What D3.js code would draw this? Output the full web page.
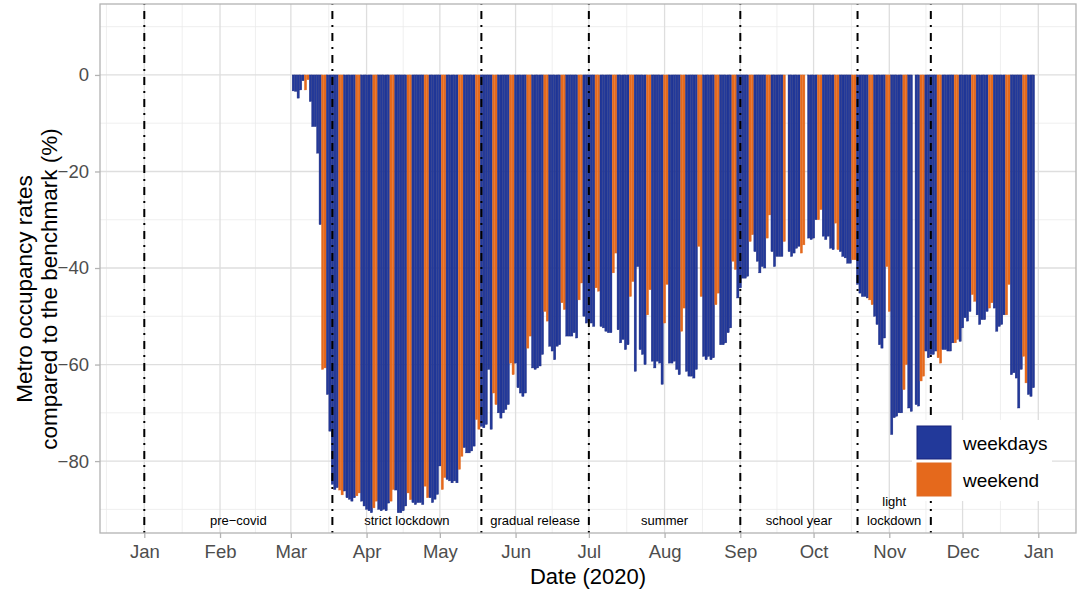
<!DOCTYPE html>
<html>
<head>
<meta charset="utf-8">
<script src="https://cdn.jsdelivr.net/npm/d3@7"></script>
<style>
  body { margin: 0; background: #fff; }
  svg { font-family: "Liberation Sans", Arial, Helvetica, sans-serif; }
</style>
</head>
<body>
<script>
// daily metro occupancy vs benchmark (%), one array per month, index 0 = 1st day (null = no data)
var march = [null, -3.3, -3.4, -4.8, -3.1, -1.2, -3.1, -1.0, -5.5, -10.7, -10.7, -16.2, -31, -61, -60.7, -66.2,
  -73.8, -84.8, -85.9, -85.5, -86, -87, -86.2, -87.6, -87.9, -88.3, -87.6, -87.2, -86.6, -88.3, -89.3];
var april = [-90, -90.3, -90.7, -89.7, -88.3, -90, -90.3, -90, -90.3, -88.7, -88.3, -85.9, -86, -90.7, -90.7,
  -90.3, -89.3, -86.6, -88, -88.6, -89, -88.6, -88.6, -89, -85.2, -87.6, -87.6, -88.6, -87.9, -86.9];
var may = [-81, -85.9, -83.4, -83.8, -84.1, -84.5, -84.1, -84.5, -81.7, -79, -77.2, -78.3, -78.3, -77.9, -76.9,
  -71.4, -73.4, -72.8, -73.1, -72.4, -61, -73.4, -65.9, -68.3, -70, -71.1, -70, -69.3, -68.3, -59.7, -62.1];
var june = [-59.7, -64.8, -65.9, -66.6, -65.9, -56.6, -54.1, -60.7, -61, -60.7, -60.3, -57.9, -49, -51, -56.2,
  -57.2, -59, -56.2, -55.9, -47.2, -48.6, -54.1, -54.1, -54.1, -53.4, -54.5, -46.6, -43.1, -50, -51.4];
var july = [-51, -51.4, -52.1, -44.1, -44.8, -52.1, -52.4, -53.1, -53.4, -53.4, -41, -36.9, -52.8, -55.5, -54.8,
  -56.9, -55.9, -45.9, -42.8, -61.4, -39.7, -56.9, -57.9, -60, -49.7, -44.5, -59.3, -60.7, -59.3, -59.7, -64.1];
var august = [-51.4, -43.4, -59.7, -59.7, -59.3, -61, -62.1, -53.1, -48.3, -61.4, -62.4, -62.4, -62.8, -61, -35.5,
  -45.9, -58.3, -59, -58.3, -59, -58.6, -47.6, -45.2, -55.9, -55.9, -55.5, -53.4, -52.4, -38.6, -40.3, -46.2];
var september = [-44.1, -42.1, -42.1, -41.7, -34.5, -33.1, -36.6, -38.6, -41, -39.7, -40, -33.8, -29, -36.6, -39.7,
  -37.6, -37.6, -37.6, -34.5, null, -36.6, -37.6, -36.9, -35.9, -35.5, -36.9, -35.2, null, -33.8, -34.1];
var october = [-33.8, -30, -30, -27.9, -33.4, -34.1, -33.4, -35.9, -36.2, -30.7, -36.2, -36.6, -37.6, -37.9, -39,
  -39, -38.3, -38.3, -43.4, -45.2, -45.9, -45.9, -46.2, -46.6, -47.6, -50, -51.7, -55.9, -56.6, -54.5, -39.7];
var november = [-49, -74.5, -71, -70.7, -70, -70, -65.2, -60, -69, -69.7, null, -68.3, -68.6, -63.4, -62.4,
  -57.2, -58.6, -57.9, -57.9, -57.2, -58.6, -59.7, -56.9, -56.9, -57.2, -57.2, -55.5, -55.5, -54.8, -55.2];
var december = [-52.4, -50.3, -51, -49, -45.5, -46.9, -49.7, -51.7, -50.7, -50.7, -49, -48.3, -47.2, -48.3, -53.1,
  -52.1, -51.7, -49.7, -49.7, -43.4, -62.1, -61.7, -62.8, -69, -61, -58.3, -63.8, -66.2, -66.6, -64.8];

var monthlyValues = [march, april, may, june, july, august, september, october, november, december];
var firstMonth = 2; // march

var monthLabels = ["Jan", "Feb", "Mar", "Apr", "May", "Jun", "Jul", "Aug", "Sep", "Oct", "Nov", "Dec", "Jan"];
var yTicks = [0, -20, -40, -60, -80];
var yMinor = [10, -10, -30, -50, -70, -90];

var phaseStarts = ["2020-01-01", "2020-03-18", "2020-05-18", "2020-07-01", "2020-09-01", "2020-10-19", "2020-11-18"];
var phaseLabels = [["pre\u2212covid"], ["strict lockdown"], ["gradual release"], ["summer"], ["school year"], ["light", "lockdown"]];

var legendLabels = ["weekdays", "weekend"];
var colors = { weekdays: "#22399a", weekend: "#e5691c" };
var strokes = { weekdays: "#16237c", weekend: "#e06a22" };

// build daily rows
var DAY = 864e5;
var rows = [];
monthlyValues.forEach(function(arr, m) {
  arr.forEach(function(v, i) {
    if (v === null) return;
    var date = new Date(Date.UTC(2020, firstMonth + m, i + 1));
    var dow = date.getUTCDay();
    rows.push({ date: date, value: v, type: (dow === 0 || dow === 6) ? "weekend" : "weekdays" });
  });
});

var w = 1084, h = 595;
var pl = 100, pr = 1076, pt = 4, pb = 533;

var t0 = Date.UTC(2020, 0, 1);
var pxPerDay = 894 / 366;
var xScale = d3.scaleUtc()
  .domain([new Date(t0 - (144.3 - pl) / pxPerDay * DAY), new Date(t0 + (pr - 144.3) / pxPerDay * DAY)])
  .range([pl, pr]);

var yScale = d3.scaleLinear()
  .domain([14.7, -94.9])
  .range([pt, pb]);

var svg = d3.select("body").append("svg")
  .attr("width", w)
  .attr("height", h);

svg.append("defs").append("clipPath").attr("id", "panel")
  .append("rect").attr("x", pl).attr("y", pt).attr("width", pr - pl).attr("height", pb - pt);

var grid = svg.append("g").attr("clip-path", "url(#panel)");

// x gridlines: months major, mid-months minor
var majorDates = d3.utcMonth.range(new Date(Date.UTC(2020, 0, 1)), new Date(Date.UTC(2021, 0, 2)));
var allMonths = d3.utcMonth.range(new Date(Date.UTC(2019, 11, 1)), new Date(Date.UTC(2021, 1, 2)));
var minorDates = [];
for (var k = 0; k < allMonths.length - 1; k++) {
  minorDates.push(new Date((+allMonths[k] + +allMonths[k + 1]) / 2));
}

grid.selectAll(".xminor").data(minorDates).enter().append("line")
  .attr("x1", function(d) { return xScale(d); }).attr("x2", function(d) { return xScale(d); })
  .attr("y1", pt).attr("y2", pb)
  .attr("stroke", "#ebebeb").attr("stroke-width", 0.8);
grid.selectAll(".yminor").data(yMinor).enter().append("line")
  .attr("x1", pl).attr("x2", pr)
  .attr("y1", function(d) { return yScale(d); }).attr("y2", function(d) { return yScale(d); })
  .attr("stroke", "#ebebeb").attr("stroke-width", 0.8);
grid.selectAll(".xmajor").data(majorDates).enter().append("line")
  .attr("x1", function(d) { return xScale(d); }).attr("x2", function(d) { return xScale(d); })
  .attr("y1", pt).attr("y2", pb)
  .attr("stroke", "#dedede").attr("stroke-width", 1.3);
grid.selectAll(".ymajor").data(yTicks).enter().append("line")
  .attr("x1", pl).attr("x2", pr)
  .attr("y1", function(d) { return yScale(d); }).attr("y2", function(d) { return yScale(d); })
  .attr("stroke", "#dedede").attr("stroke-width", 1.3);

// bars
var bw = pxPerDay * 0.9;
svg.append("g").selectAll("rect")
  .data(rows)
  .enter()
  .append("rect")
  .attr("x", function(d) { return xScale(d.date) - bw / 2; })
  .attr("y", yScale(0))
  .attr("width", bw)
  .attr("height", function(d) { return yScale(d.value) - yScale(0); })
  .attr("fill", function(d) { return colors[d.type]; })
  .attr("stroke", function(d) { return strokes[d.type]; })
  .attr("stroke-width", 0.4);

// phase lines
var phaseDates = phaseStarts.map(function(s) { return new Date(s + "T00:00:00Z"); });
svg.append("g").selectAll("line")
  .data(phaseDates)
  .enter()
  .append("line")
  .attr("x1", function(d) { return xScale(d); }).attr("x2", function(d) { return xScale(d); })
  .attr("y1", pb).attr("y2", pt)
  .attr("stroke", "#000")
  .attr("stroke-width", 2)
  .attr("stroke-dasharray", "2,6,8,6");

// phase labels
var phaseG = svg.append("g");
phaseLabels.forEach(function(lines, i) {
  var cx = (xScale(phaseDates[i]) + xScale(phaseDates[i + 1])) / 2;
  lines.forEach(function(txt, j) {
    phaseG.append("text")
      .attr("x", cx)
      .attr("y", 524.5 - (lines.length - 1 - j) * 18.5)
      .attr("text-anchor", "middle")
      .attr("font-size", 13)
      .attr("fill", "#000")
      .text(txt);
  });
});

// panel border
svg.append("rect")
  .attr("x", pl).attr("y", pt).attr("width", pr - pl).attr("height", pb - pt)
  .attr("fill", "none").attr("stroke", "#b3b3b3").attr("stroke-width", 1.3);

// axes
var xAxis = d3.axisBottom(xScale)
  .tickValues(majorDates)
  .tickFormat(function(d, i) { return monthLabels[i]; })
  .tickSize(5)
  .tickPadding(7);
var gx = svg.append("g").attr("transform", "translate(0," + pb + ")").call(xAxis);

var yAxis = d3.axisLeft(yScale)
  .tickValues(yTicks)
  .tickFormat(function(d) { return d < 0 ? "\u2212" + Math.abs(d) : d; })
  .tickSize(5)
  .tickPadding(6);
var gy = svg.append("g").attr("transform", "translate(" + pl + ",0)").call(yAxis);

[gx, gy].forEach(function(g) {
  g.select(".domain").remove();
  g.selectAll(".tick line").attr("stroke", "#b3b3b3").attr("stroke-width", 1.3);
  g.selectAll(".tick text").attr("fill", "#4d4d4d").attr("font-size", 18.5)
    .attr("font-family", "Liberation Sans, Arial, sans-serif");
});

// axis titles
svg.append("text")
  .attr("x", (pl + pr) / 2)
  .attr("y", 584)
  .attr("text-anchor", "middle")
  .attr("font-size", 22)
  .text("Date (2020)");

var yTitle = svg.append("text")
  .attr("transform", "translate(0,289) rotate(-90)")
  .attr("text-anchor", "middle")
  .attr("font-size", 22.5);
yTitle.append("tspan").attr("x", 0).attr("y", 32).text("Metro occupancy rates");
yTitle.append("tspan").attr("x", 0).attr("y", 57).text("compared to the benchmark (%)");

// legend inside panel
var lg = svg.append("g");
lg.append("rect").attr("x", 912).attr("y", 420).attr("width", 140).attr("height", 81).attr("fill", "#fff");
legendLabels.forEach(function(name, i) {
  lg.append("rect")
    .attr("x", 917).attr("y", 426 + i * 37)
    .attr("width", 34).attr("height", 33)
    .attr("fill", colors[name])
    .attr("stroke", strokes[name])
    .attr("stroke-width", 1);
  lg.append("text")
    .attr("x", 963).attr("y", 443 + i * 37.5)
    .attr("dominant-baseline", "central")
    .attr("font-size", 19)
    .text(name);
});
</script>
</body>
</html>
